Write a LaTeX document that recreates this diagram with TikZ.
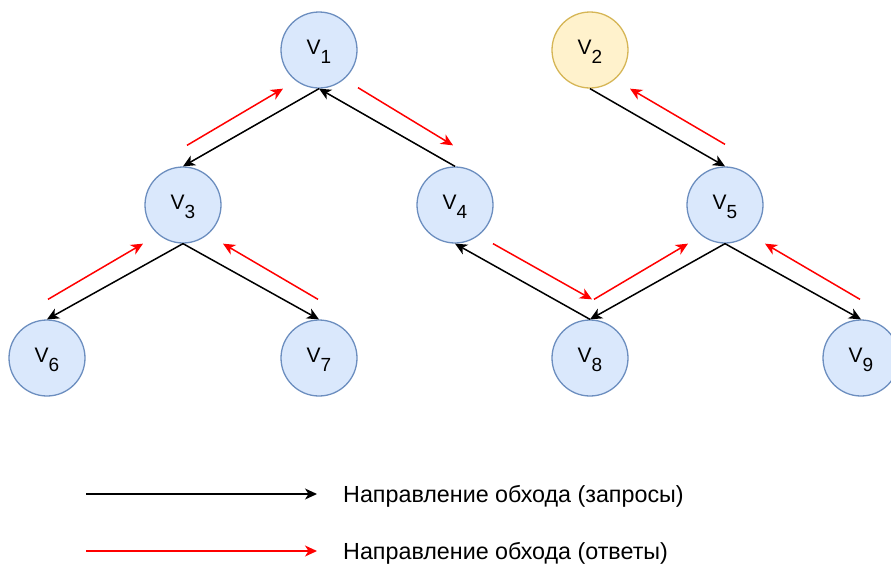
\documentclass[tikz,border=0pt]{standalone}
\usepackage{fontspec}
\setmainfont{Liberation Sans}
\usetikzlibrary{arrows.meta,calc}

\definecolor{vfill}{HTML}{DAE8FC}
\definecolor{vstroke}{HTML}{6C8EBF}
\definecolor{rfill}{HTML}{FFF2CC}
\definecolor{rstroke}{HTML}{D6B656}
\definecolor{resp}{HTML}{FF0000}

% vertex caption: V with a lowered index
\newcommand\vname[1]{{\fontsize{21}{21}\selectfont V\raisebox{-9pt}{\fontsize{19}{19}\selectfont #1}}}

\tikzset{
  vert/.style={circle, minimum size=76pt, inner sep=0pt, draw=vstroke, fill=vfill, line width=1.3pt},
  root/.style={vert, draw=rstroke, fill=rfill},
  vlab/.style={label={[anchor=base, yshift=-2pt]center:\vname{#1}}},
  req/.style={draw=black, line width=1.5pt, -{Stealth[length=12pt, width=11pt, inset=3.5pt]}},
  answ/.style={req, draw=resp},
  legtext/.style={anchor=base west, inner sep=0pt, font=\fontsize{23.3}{26}\selectfont}
}

\begin{document}
\begin{tikzpicture}[x=1pt, y=1pt]
\useasboundingbox (0,0) rectangle (891,-565);

% vertices
\node[vert, vlab=1] (v1) at (319,-50) {};
\node[root, vlab=2] (v2) at (590,-50) {};
\node[vert, vlab=3] (v3) at (183,-205) {};
\node[vert, vlab=4] (v4) at (455,-205) {};
\node[vert, vlab=5] (v5) at (725,-205) {};
\node[vert, vlab=6] (v6) at (47,-358) {};
\node[vert, vlab=7] (v7) at (319,-358) {};
\node[vert, vlab=8] (v8) at (590,-358) {};
\node[vert, vlab=9] (v9) at (861,-358) {};

% traversal requests
\draw[req] (v1.south) -- (v3.north);
\draw[req] (v4.north) -- (v1.south);
\draw[req] (v3.south) -- (v6.north);
\draw[req] (v3.south) -- (v7.north);
\draw[req] (v8.north) -- (v4.south);
\draw[req] (v5.south) -- (v8.north);
\draw[req] (v5.south) -- (v9.north);
\draw[req] (v2.south) -- (v5.north);

% traversal answers
\draw[answ] ($(v3.north)+(4,21)$) -- ($(v1.south)+(-36,0)$);
\draw[answ] ($(v1.south)+(39,1)$) -- ($(v4.north)+(-2,21)$);
\draw[answ] ($(v6.north)+(1,20)$) -- ($(v3.south)+(-40,0)$);
\draw[answ] ($(v7.north)+(-1,20)$) -- ($(v3.south)+(40,0)$);
\draw[answ] ($(v4.south)+(38,0)$) -- ($(v8.north)+(2,20)$);
\draw[answ] ($(v8.north)+(4,20)$) -- ($(v5.south)+(-37,0)$);
\draw[answ] ($(v9.north)+(-1,20)$) -- ($(v5.south)+(40,0)$);
\draw[answ] ($(v5.north)+(0,22)$) -- ($(v2.south)+(40,0)$);

% legend
\coordinate (k1a) at (86,-494);
\coordinate (k1b) at (317,-494);
\coordinate (k2a) at (86,-551);
\coordinate (k2b) at (317,-551);
\draw[req] (k1a) -- (k1b);
\draw[answ] (k2a) -- (k2b);
\node[legtext] (t1) at (343,-502) {Направление обхода (запросы)};
\node[legtext] (t2) at (343,-559) {Направление обхода (ответы)};
\end{tikzpicture}
\end{document}
